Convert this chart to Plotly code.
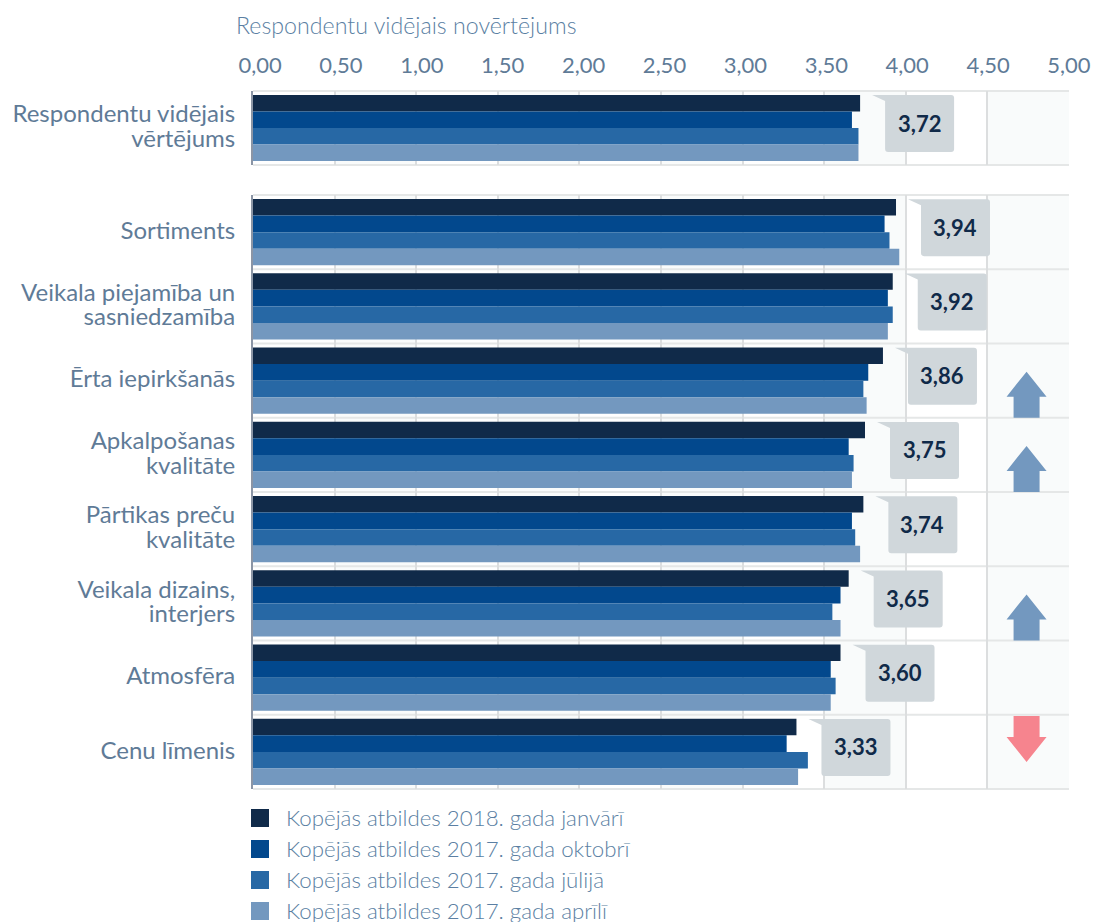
import plotly.graph_objects as go

# Survey ratings per retail attribute, four survey waves
summary_label = ["Respondentu vidējais<br>vērtējums"]
attributes = [
    "Sortiments",
    "Veikala piejamība un<br>sasniedzamība",
    "Ērta iepirkšanās",
    "Apkalpošanas<br>kvalitāte",
    "Pārtikas preču<br>kvalitāte",
    "Veikala dizains,<br>interjers",
    "Atmosfēra",
    "Cenu līmenis",
]
wave_names = [
    "Kopējās atbildes 2018. gada janvārī",
    "Kopējās atbildes 2017. gada oktobrī",
    "Kopējās atbildes 2017. gada jūlijā",
    "Kopējās atbildes 2017. gada aprīlī",
]
wave_colors = ["#102a49", "#02488d", "#2768a5", "#7398bf"]

summary_values = [[3.72], [3.67], [3.71], [3.71]]
jan_2018 = [3.94, 3.92, 3.86, 3.75, 3.74, 3.65, 3.60, 3.33]
oct_2017 = [3.87, 3.89, 3.77, 3.65, 3.67, 3.60, 3.54, 3.27]
jul_2017 = [3.90, 3.92, 3.74, 3.68, 3.69, 3.55, 3.57, 3.40]
apr_2017 = [3.96, 3.89, 3.76, 3.67, 3.72, 3.60, 3.54, 3.34]
attribute_values = [jan_2018, oct_2017, jul_2017, apr_2017]

# Change against the previous wave: +1 up, -1 down, 0 none
trend = [0, 0, 1, 1, 0, 1, 0, -1]
TREND_X = 4.74

tick_values = [0, 0.5, 1, 1.5, 2, 2.5, 3, 3.5, 4, 4.5, 5]
tick_labels = [f"{v:.2f}".replace(".", ",") for v in tick_values]
band_starts = [0.5, 1.5, 2.5, 3.5, 4.5]

# Scale labels run on a slightly tighter pitch than the grid: nudged right at the low end
label_positions = [v + 0.043 * (1 - v / 5) for v in tick_values]

GRID = "#dcdedf"
RULE = "#e5e7e7"
BAND = "#f9fbfb"
CALLOUT = "#d0d7db"
TICK_TEXT = "#5f7b97"
LIGHT_TEXT = "#5b7fa3"
BODY_FONT = "Lato"

# Plot area in pixels, used for placing the key below it
PLOT_LEFT, PLOT_TOP, PLOT_W, PLOT_H = 253, 91, 816, 698


def big_label(text):
    # Larger glyphs inside a smaller base font keep wrapped lines close together
    return "<br>".join(f'<span style="font-size:24px">{part}</span>' for part in text.split("<br>"))


fig = go.Figure()

for name, color, values in zip(wave_names, wave_colors, summary_values):
    fig.add_trace(go.Bar(x=values, y=summary_label, orientation="h", marker_color=color,
                         marker_line_width=0, yaxis="y", xaxis="x", showlegend=False, name=name))
for name, color, values in zip(wave_names, wave_colors, attribute_values):
    fig.add_trace(go.Bar(x=values, y=attributes, orientation="h", marker_color=color,
                         marker_line_width=0, yaxis="y2", xaxis="x", showlegend=False, name=name))

shapes = []
annotations = []

# Alternating vertical bands in both panels
for start in band_starts:
    for yref in ("y domain", "y2 domain"):
        shapes.append(dict(type="rect", layer="below", xref="x", yref=yref, x0=start, x1=start + 0.5,
                           y0=0, y1=1, fillcolor=BAND, line_width=0))

# Row separators and panel borders
for yref in ("y domain", "y2 domain"):
    for y_edge in (0, 1):
        shapes.append(dict(type="line", layer="below", xref="x", yref=yref, x0=0, x1=5,
                           y0=y_edge, y1=y_edge, line=dict(color=RULE, width=2)))
for i in range(len(attributes) - 1):
    shapes.append(dict(type="line", layer="below", xref="x", yref="y2", x0=0, x1=5,
                       y0=i + 0.5, y1=i + 0.5, line=dict(color=RULE, width=2)))


def add_callout(value, category, yref):
    # Rounded box with a small tail, sized in pixels and anchored at the bar's end
    path = ("M 12 33 L 25 27 L 25 -21 Q 25 -24 28 -24 L 91 -24 Q 94 -24 94 -21 "
            "L 94 30 Q 94 33 91 33 Z")
    shapes.append(dict(type="path", layer="above", xref="x", yref=yref, xsizemode="pixel",
                       ysizemode="pixel", xanchor=value, yanchor=category, path=path,
                       fillcolor=CALLOUT, line_width=0))
    annotations.append(dict(x=value, y=category, xref="x", yref=yref, xshift=59, yshift=5,
                            text=f"{value:.2f}".replace(".", ","), showarrow=False,
                            font=dict(family=BODY_FONT, size=22, color="#102a49", weight="bold")))


add_callout(summary_values[0][0], summary_label[0], "y")
for label, value in zip(attributes, jan_2018):
    add_callout(value, label, "y2")

# Trend arrows, drawn in pixels around the row centre
UP_ARROW = "M 0 9 L 20 -16 L 13 -16 L 13 -37 L -13 -37 L -13 -16 L -20 -16 Z"
DOWN_ARROW = "M 0 -10 L 20 15 L 13 15 L 13 36 L -13 36 L -13 15 L -20 15 Z"
for label, direction in zip(attributes, trend):
    if direction == 0:
        continue
    shapes.append(dict(type="path", layer="above", xref="x", yref="y2", xsizemode="pixel",
                       ysizemode="pixel", xanchor=TREND_X, yanchor=label,
                       path=UP_ARROW if direction > 0 else DOWN_ARROW,
                       fillcolor="#7398bf" if direction > 0 else "#f6848e", line_width=0))

# Colour key below the plot: one swatch and caption per survey wave
for row, (name, color) in enumerate(zip(wave_names, wave_colors)):
    centre_y = 818 + row * 31
    y_frac = (PLOT_TOP + PLOT_H - centre_y) / PLOT_H
    shapes.append(dict(type="rect", xref="paper", yref="paper",
                       x0=(251 - PLOT_LEFT) / PLOT_W, x1=(269 - PLOT_LEFT) / PLOT_W,
                       y0=y_frac - 9 / PLOT_H, y1=y_frac + 9 / PLOT_H,
                       fillcolor=color, line_width=0))
    annotations.append(dict(x=(284 - PLOT_LEFT) / PLOT_W, y=y_frac + 1 / PLOT_H, xref="paper", yref="paper",
                            xanchor="left", yanchor="middle", text=name, showarrow=False,
                            font=dict(family=BODY_FONT, size=22.3, weight=300, color=LIGHT_TEXT)))

fig.update_layout(
    width=1096,
    height=922,
    autosize=False,
    margin=dict(l=PLOT_LEFT, r=1096 - PLOT_LEFT - PLOT_W, t=PLOT_TOP, b=922 - PLOT_TOP - PLOT_H, pad=0),
    paper_bgcolor="white",
    plot_bgcolor="white",
    barmode="group",
    bargap=0.11,
    bargroupgap=0,
    showlegend=False,
    font=dict(family=BODY_FONT, color=TICK_TEXT),
    title=dict(text="Respondentu vidējais novērtējums", x=236 / 1096, xanchor="left", xref="container",
               y=1 - 26 / 922, yanchor="middle",
               font=dict(family=BODY_FONT, size=23.2, weight=300, color=LIGHT_TEXT)),
    xaxis=dict(range=[0, 5], side="top", anchor="y", automargin=False, tickmode="array",
               tickvals=label_positions, ticktext=tick_labels, tickfont=dict(size=22, color=TICK_TEXT),
               ticks="", ticklabelstandoff=13, showgrid=False, zeroline=False, showline=False,
               minor=dict(tickmode="array", tickvals=tick_values, ticks="", showgrid=True,
                          gridcolor=GRID, gridwidth=2)),
    yaxis=dict(domain=[(789 - 165) / 698, 1], range=[0.5, -0.5], anchor="x", automargin=False, ticks="",
               tickmode="array", tickvals=summary_label, ticktext=[big_label(t) for t in summary_label],
               tickfont=dict(size=19, color=TICK_TEXT), ticklabelstandoff=12,
               showgrid=False, showline=True, linecolor="#8b95a5", linewidth=2, zeroline=False),
    yaxis2=dict(domain=[0, 594 / 698], range=[7.5, -0.5], anchor="x", automargin=False, ticks="",
                tickmode="array", tickvals=attributes, ticktext=[big_label(t) for t in attributes],
                tickfont=dict(size=19, color=TICK_TEXT), ticklabelstandoff=12,
                showgrid=False, showline=True, linecolor="#8b95a5", linewidth=2, zeroline=False),
    shapes=shapes,
    annotations=annotations,
)

fig.write_html("out.html")
